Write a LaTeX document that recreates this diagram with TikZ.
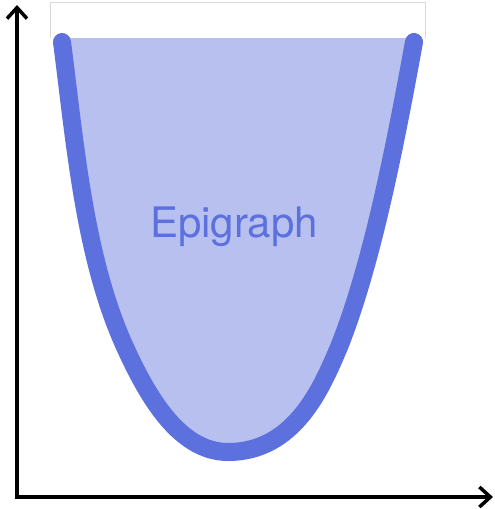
\documentclass[tikz,border=0pt]{standalone}
\usepackage{fontspec}
\setmainfont{TeX Gyre Heros}
\usetikzlibrary{arrows.meta,positioning}
\definecolor{epiblue}{HTML}{5C70DE}
\definecolor{epifill}{HTML}{B7C0EE}

\begin{document}
\begin{tikzpicture}[x=1pt, y=-1pt,
    axis/.style={line width=3.5pt, line join=miter, {Straight Barb[length=11pt,width=20pt]}-{Straight Barb[length=11pt,width=20pt]}},
    epiline/.style={draw=epiblue, line width=18pt, line cap=round},
    frame/.style={draw=black!15, line width=0.8pt}]
    \useasboundingbox (0,0) rectangle (495,509);
    \coordinate (ytop) at (17,5);
    \coordinate (orig) at (17,497);
    \coordinate (xend) at (493,497);
    \coordinate (lend) at (62,42);
    \coordinate (lmid) at (125,347);
    \coordinate (bot) at (228,452);
    \coordinate (rmid) at (339,347);
    \coordinate (rend) at (414,42);

    \draw[frame] (50,38) |- (425,2.5) -- (425,38);
    \fill[epifill] (58,38) -- (lend) .. controls (75,142) and (84,257) .. (lmid)
        .. controls (146,393) and (178,452) .. (bot)
        .. controls (295,452) and (322,387) .. (rmid)
        .. controls (371,267) and (394,152) .. (rend) -- (417,38) -- cycle;
    \draw[epiline] (lend) .. controls (75,142) and (84,257) .. (lmid)
        .. controls (146,393) and (178,452) .. (bot)
        .. controls (295,452) and (322,387) .. (rmid)
        .. controls (371,267) and (394,152) .. (rend);

    \node[anchor=base, text=epiblue, font=\fontsize{42}{50}\selectfont] (epi) at (234,237) {Epigraph};

    \draw[axis] (ytop) |- (xend);
\end{tikzpicture}
\end{document}
